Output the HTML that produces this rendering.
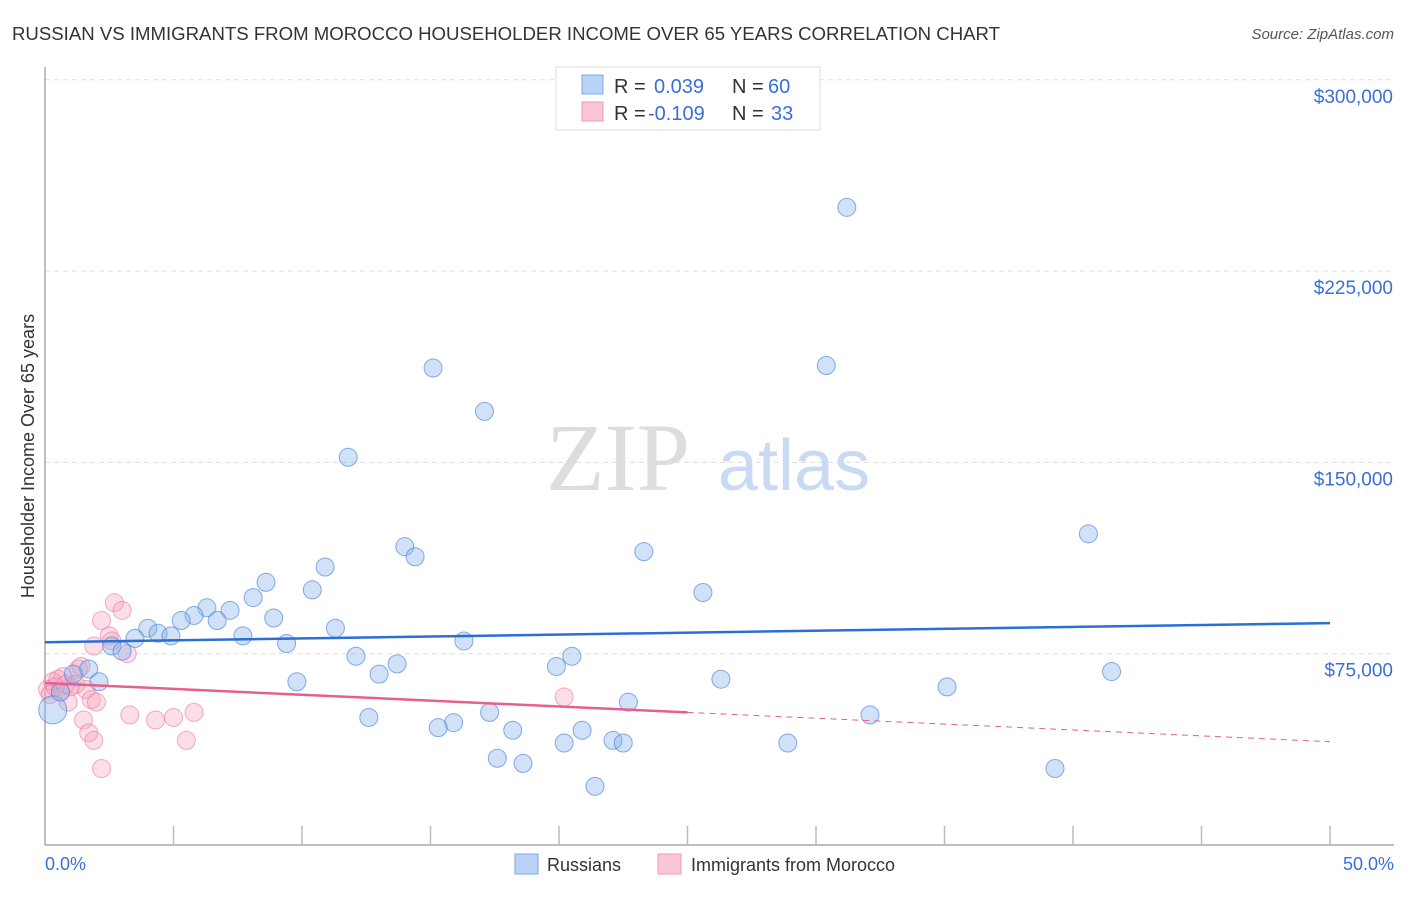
<!DOCTYPE html>
<html><head><meta charset="utf-8"><style>
body{margin:0;background:#fff;font-family:"Liberation Sans",sans-serif;}
</style></head><body>
<svg width="1406" height="892" xmlns="http://www.w3.org/2000/svg" font-family="Liberation Sans, sans-serif">
<text x="12" y="40" font-size="18" fill="#333" textLength="988" lengthAdjust="spacingAndGlyphs">RUSSIAN VS IMMIGRANTS FROM MOROCCO HOUSEHOLDER INCOME OVER 65 YEARS CORRELATION CHART</text>
<text x="1394" y="39" font-size="15" fill="#555" font-style="italic" text-anchor="end">Source: ZipAtlas.com</text>
<g id="grid"></g>
<text x="690" y="490" font-size="96" fill="#ddd" font-family="Liberation Serif, serif" text-anchor="end">ZIP</text>
<text x="718" y="490" font-size="72" fill="#c9daf2">atlas</text>
<g id="axes"></g>
<g id="pts"></g>
<g id="trend"></g>
<text transform="translate(34,456) rotate(-90)" font-size="18" fill="#333" text-anchor="middle">Householder Income Over 65 years</text>
<text x="45" y="870" font-size="18" fill="#3a6fd8">0.0%</text>
<text x="1394" y="870" font-size="18" fill="#3a6fd8" text-anchor="end">50.0%</text>
<g>
<rect x="556" y="67" width="264" height="63" fill="#fff" stroke="#ddd"/>
<rect x="582" y="75" width="21" height="19" fill="#b9d3f6" stroke="#7fa9e6"/>
<rect x="582" y="102" width="21" height="19" fill="#fbc7d6" stroke="#ef9ab5"/>
<text x="614" y="93" font-size="20" fill="#333">R = </text><text x="654" y="93" font-size="20" fill="#3a6fd8">0.039</text>
<text x="732" y="93" font-size="20" fill="#333">N = </text><text x="768" y="93" font-size="20" fill="#3a6fd8">60</text>
<text x="614" y="120" font-size="20" fill="#333">R = </text><text x="648" y="120" font-size="20" fill="#3a6fd8">-0.109</text>
<text x="732" y="120" font-size="20" fill="#333">N = </text><text x="771" y="120" font-size="20" fill="#3a6fd8">33</text>
</g>
<g><rect x="515" y="854" width="23" height="20" fill="#b9d3f6" stroke="#7fa9e6"/><text x="547" y="871" font-size="18" fill="#333">Russians</text></g>
<g><rect x="658" y="854" width="23" height="20" fill="#fbc7d6" stroke="#ef9ab5"/><text x="691" y="871" font-size="18" fill="#333">Immigrants from Morocco</text></g>
</svg>
<script>
const yTicks=[75000,150000,225000,300000];
const yTickLabels=["$75,000","$150,000","$225,000","$300,000"];
const russiansX=[31.2,30.4,15.1,17.1,11.8,40.6,14.0,14.4,23.3,10.9,8.6,10.4,8.1,25.6,6.3,7.2,5.8,5.3,6.7,8.9,4.0,4.4,4.9,11.3,7.7,3.5,9.4,16.3,2.6,3.0,12.1,13.7,13.0,20.5,19.9,41.5,1.7,1.1,2.1,9.8,26.3,35.1,22.7,17.3,12.6,15.9,15.3,32.1,18.2,20.9,20.2,22.1,22.5,28.9,17.6,18.6,39.3,21.4,0.3,0.6];
const russiansY=[250000,188000,187000,170000,152000,122000,117000,113000,115000,109000,103000,100000,97000,99000,93000,92000,90000,88000,88000,89000,85000,83000,82000,85000,82000,81000,79000,80000,78000,76000,74000,71000,67000,74000,70000,68000,69000,67000,64000,64000,65000,62000,56000,52000,50000,48000,46000,51000,45000,45000,40000,41000,40000,40000,34000,32000,30000,23000,53000,60000];
const moroccoX=[2.2,2.7,3.0,2.5,2.6,1.9,3.2,1.3,0.7,0.5,0.3,0.1,0.6,1.0,1.6,1.8,0.9,2.0,1.5,1.7,1.9,3.3,4.3,5.0,5.8,5.5,2.2,20.2,0.2,1.2,0.4,0.8,1.4];
const moroccoY=[88000,95000,92000,82000,80000,78000,75000,69000,66000,65000,64000,61000,60000,62000,61000,57000,56000,56000,49000,44000,41000,51000,49000,50000,52000,41000,30000,58000,59000,63000,62000,63000,70000];
const trendRus=[[0,79500],[50,87000]];
const trendMor=[[0,63500],[25,52000],[50,40500]];
const NS="http://www.w3.org/2000/svg";
const X=v=>45+v/50*1285, Y=v=>845-v/75000*191.3;
function mk(t,a,p){const e=document.createElementNS(NS,t);for(const k in a)e.setAttribute(k,a[k]);p.appendChild(e);return e;}
const grid=document.getElementById('grid');
yTicks.forEach((t,i)=>{
 const l=mk('line',{x1:45,x2:1394,y1:Y(t),y2:Y(t),stroke:'#ddd','stroke-dasharray':'5,4'},grid);
 
 
 const tx=mk('text',{x:1393,y:Y(t)+23,'font-size':19,fill:'#3a6fd8','text-anchor':'end'},grid);
 tx.textContent=yTickLabels[i];
 
 
});
const ax=document.getElementById('axes');
mk('line',{x1:45,x2:45,y1:67,y2:845,stroke:'#aaa','stroke-width':1.5},ax);
mk('line',{x1:45,x2:1394,y1:845,y2:845,stroke:'#aaa','stroke-width':1.5},ax);
for(let i=1;i<=10;i++){const t=mk('line',{x1:X(i*5),x2:X(i*5),y1:826,y2:845,stroke:'#bbb','stroke-width':1.5},ax);
 
 }
const pts=document.getElementById('pts');
moroccoX.forEach((x,i)=>{const c=mk('circle',{cx:X(x),cy:Y(moroccoY[i]),r:9,fill:'rgba(246,160,188,0.35)',stroke:'rgba(232,120,160,0.6)'},pts);
 
 });
russiansX.forEach((x,i)=>{const c=mk('circle',{cx:X(x),cy:Y(russiansY[i]),r:i==58?14:9,fill:'rgba(140,180,236,0.4)',stroke:'rgba(70,130,215,0.65)'},pts);
 
 });
const tr=document.getElementById('trend');
let a=mk('line',{x1:X(trendRus[0][0]),y1:Y(trendRus[0][1]),x2:X(trendRus[1][0]),y2:Y(trendRus[1][1]),stroke:'#2a6fd6','stroke-width':2.5},tr);


let b=mk('line',{x1:X(trendMor[0][0]),y1:Y(trendMor[0][1]),x2:X(trendMor[1][0]),y2:Y(trendMor[1][1]),stroke:'#e5608e','stroke-width':2.5},tr);


let d=mk('line',{x1:X(trendMor[1][0]),y1:Y(trendMor[1][1]),x2:X(trendMor[2][0]),y2:Y(trendMor[2][1]),stroke:'#e5608e','stroke-width':1,'stroke-dasharray':'6,5'},tr);


</script>
</body></html>
